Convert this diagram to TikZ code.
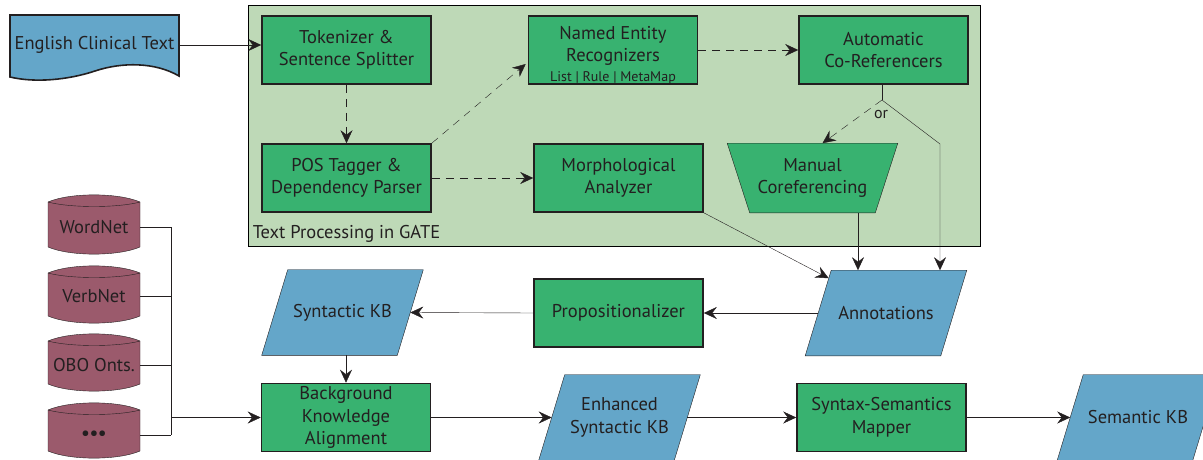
\documentclass[tikz,border=0pt]{standalone}
\usepackage{fontspec}
\setmainfont{PT Sans}
\usetikzlibrary{arrows.meta}
\pgfdeclarelayer{bg}
\pgfsetlayers{bg,main}
\definecolor{boxgreen}{RGB}{56,178,112}
\definecolor{bggreen}{RGB}{190,217,183}
\definecolor{kbblue}{RGB}{100,166,201}
\definecolor{dbred}{RGB}{155,90,108}
\definecolor{ink}{RGB}{35,31,32}
\tikzset{
  txt/.style={font=\fontsize{18.5}{22.5}\selectfont},
  proc/.style={txt, draw, fill=boxgreen, minimum width=169pt, minimum height=68pt, align=center, inner sep=0pt},
  kb/.style={txt, minimum width=160pt, minimum height=84pt, align=center, inner sep=0pt},
  kbshape/.style={fill=kbblue, draw=ink},
  trapshape/.style={fill=boxgreen, draw=ink},
  dbtext/.style={txt, inner sep=0pt, minimum width=92pt},
  arr/.style={-{Stealth[length=13pt,width=12pt,inset=4.5pt]}},
  dsh/.style={arr, dash pattern=on 8pt off 6pt},
  dbshape/.style={fill=dbred, draw=ink},
}
\newcommand{\paraShape}[1]{%
  \path[kbshape] ([xshift=26pt]#1.north west) -- (#1.north east) -- ([xshift=-26pt]#1.south east) -- (#1.south west) -- cycle;}
\begin{document}
\begin{tikzpicture}[x=1pt,y=-1pt,line width=1.6pt,color=ink]
\useasboundingbox (0,0) rectangle (1203,460);
\node[txt, anchor=base west, inner sep=0pt] (gate) at (252,238) {Text Processing in GATE};
% English Clinical Text document
\draw[fill=kbblue] (10,15) -- (179,15) -- (179,76) .. controls (155,62) and (122,62) .. (95,71) .. controls (68,80) and (35,83) .. (10,77) -- cycle;
\node[txt, minimum width=169pt, inner sep=0pt] (ect) at (94.5,45) {English Clinical Text};
% process boxes
\node[proc] (tok) at (346.5,50) {Tokenizer \&\\Sentence Splitter};
\node[proc] (ner) at (613,50) {\rule{0pt}{23pt}Named Entity\\Recognizers\\[-3pt]{\fontsize{14}{16}\selectfont List | Rule | MetaMap}};
\node[proc] (auto) at (883.5,50) {Automatic\\Co-Referencers};
\node[proc] (pos) at (346.5,178) {POS Tagger \&\\Dependency Parser};
\node[proc] (morph) at (618.5,178) {Morphological\\Analyzer};
\node[txt, minimum width=169pt, minimum height=68pt, align=center, inner sep=0pt] (man) at (812.5,178) {Manual\\Coreferencing};
\node[kb] (ann) at (886,313) {Annotations};
\node[proc] (prop) at (618.5,313) {Propositionalizer};
\node[kb] (skb) at (342.5,312.5) {Syntactic KB};
\node[proc] (bka) at (346,417.5) {Background\\Knowledge\\Alignment};
\node[kb] (ekb) at (619.5,417.5) {Enhanced\\Syntactic KB};
\node[proc] (ssm) at (881.5,417.5) {Syntax-Semantics\\Mapper};
\node[kb] (sem) at (1138,417.5) {Semantic KB};
\begin{pgfonlayer}{bg}
  \draw[fill=bggreen] (248,5) rectangle (980,246);
  \path[trapshape] (man.north west) -- (man.north east) -- ([xshift=-22.5pt]man.south east) -- ([xshift=22.5pt]man.south west) -- cycle;
  \paraShape{ann}
  \paraShape{skb}
  \paraShape{ekb}
  \paraShape{sem}
\end{pgfonlayer}
% databases
\foreach \t/\b in {195/254, 266/323, 334/391, 403/458}{
  \path[dbshape] (48,{\t+7}) .. controls (70,{\t-2.5}) and (118,{\t-2.5}) .. (140,{\t+7}) -- (140,{\b-7}) .. controls (118,{\b+2.5}) and (70,{\b+2.5}) .. (48,{\b-7}) -- cycle;
  \draw (48,{\t+7}) .. controls (70,{\t+13}) and (118,{\t+13}) .. (140,{\t+7});
}
\node[dbtext] (wn) at (94,227) {WordNet};
\node[dbtext] (vn) at (94,296.5) {VerbNet};
\node[dbtext] (obo) at (94,365) {OBO Onts.};
\node[dbtext] (etc) at (94,435) {\textbf{•••}};
\coordinate (bj) at (171,417.5);
\draw (wn.east) -- (wn.east -| bj);
\draw (vn.east) -- (vn.east -| bj);
\draw (obo.east) -- (obo.east -| bj);
\draw (etc.east) -- (etc.east -| bj);
\draw (wn.east -| bj) -- (etc.east -| bj);
\draw[arr] (bj) -- (bka.west);
% connectors
\draw[arr] (ect.east) -- (ect.east -| tok.west);
\draw[dsh] (tok.south) -- (pos.north);
\draw[dsh] (pos.north east) -- ([xshift=-2pt,yshift=-14pt]ner.west);
\draw[dsh] (pos.east) -- (morph.west);
\draw[dsh] (ner.east) -- (auto.east -| auto.west);
\coordinate (j) at (882,100);
\coordinate (k) at (940,144);
\draw (auto.south -| j) -- (j);
\draw[dsh] (j) -- ([xshift=10pt]man.north);
\node[font=\fontsize{16}{18}\selectfont, inner sep=0pt] (or) at (881,114) {or};
\draw[arr] (j) -- (k) -- (k |- ann.north);
\draw[arr] ([xshift=45.5pt]man.south) -- ([xshift=45.5pt]man.south |- ann.north);
\draw[arr] (morph.south east) -- ([xshift=23.5pt,yshift=-8pt]ann.north west);
\draw[arr] ([xshift=13pt]ann.west) -- (prop.east);
\draw[arr] (prop.west) -- ([xshift=-13pt]skb.east);
\draw[arr] (bka.north |- skb.south) -- (bka.north);
\draw[arr] (bka.east) -- ([xshift=13pt]ekb.west);
\draw[arr] ([xshift=-13pt]ekb.east) -- (ssm.west);
\draw[arr] (ssm.east) -- ([xshift=13pt]sem.west);
\end{tikzpicture}
\end{document}
